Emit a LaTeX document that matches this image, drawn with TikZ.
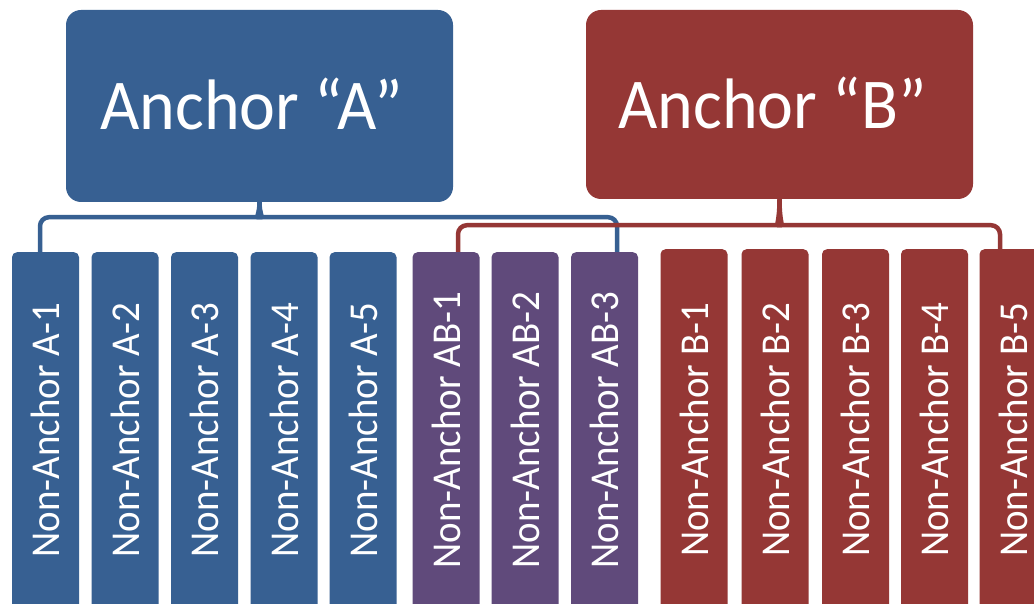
\documentclass[tikz,border=0pt]{standalone}
\usepackage{fontspec}
\setmainfont{Carlito}[FakeStretch=0.95]
\usetikzlibrary{calc}
\definecolor{ablue}{RGB}{55,96,146}
\definecolor{bred}{RGB}{149,55,53}
\definecolor{abpurple}{RGB}{96,74,123}
\begin{document}
\begin{tikzpicture}[x=1pt,y=-1pt,
  anchorbox/.style={rounded corners=15pt, minimum width=387pt, minimum height=192pt, inner sep=0pt, text=white, font=\fontsize{71.5}{78}\selectfont},
  childbox/.style={rounded corners=5pt, minimum width=67pt, minimum height=380pt, anchor=north, inner sep=0pt},
  childlabel/.style={rotate=90, text=white, font=\fontsize{41}{45}\selectfont, inner sep=0pt},
  brace/.style={line width=4.5pt, rounded corners=9pt}]
\clip (0,0) rectangle (1034,604);
\fill[white] (0,0) rectangle (1034,604);
\node[anchorbox, fill=ablue] (A) at (259.5,106) {\raisebox{4pt}{\kern-16pt Anchor “A”}};
\node[anchorbox, fill=bred, minimum height=189pt] (B) at (779.5,104.5) {\raisebox{3pt}{\kern-14pt Anchor “B”}};
\foreach \n/\x in {1/45.5,2/125,3/204.5,4/284,5/363}{
  \node[childbox, fill=ablue] (a\n) at (\x,252) {};
  \node[childlabel] (ta\n) at (\x,430) {Non-Anchor A-\n};
}
\foreach \n/\x in {1/446,2/525,3/604.5}{
  \node[childbox, fill=abpurple] (ab\n) at (\x,252) {};
  \node[childlabel] (tab\n) at (\x,430) {Non-Anchor AB-\n};
}
\foreach \n/\x in {1/694,2/775,3/855.5,4/934.5,5/1013}{
  \node[childbox, fill=bred] (b\n) at (\x,249) {};
  \node[childlabel] (tb\n) at (\x,430) {Non-Anchor B-\n};
}
% brace of Anchor A
\draw[brace, ablue] ([xshift=-5.5pt]a1.north) |- ($(A.south)+(-10.5,15)$)
  .. controls ($(A.south)+(-3.5,15)$) and ($(A.south)+(0,11)$) .. (A.south);
\draw[brace, ablue] ([xshift=12.5pt]ab3.north) |- ($(A.south)+(10.5,15)$)
  .. controls ($(A.south)+(3.5,15)$) and ($(A.south)+(0,11)$) .. (A.south);
% brace of Anchor B
\draw[brace, bred] ([xshift=12pt]ab1.north) |- ($(B.south)+(-10.5,26)$)
  .. controls ($(B.south)+(-3.5,26)$) and ($(B.south)+(0,22)$) .. (B.south);
\draw[brace, bred] ([xshift=-13pt]b5.north) |- ($(B.south)+(10.5,26)$)
  .. controls ($(B.south)+(3.5,26)$) and ($(B.south)+(0,22)$) .. (B.south);
\end{tikzpicture}
\end{document}
